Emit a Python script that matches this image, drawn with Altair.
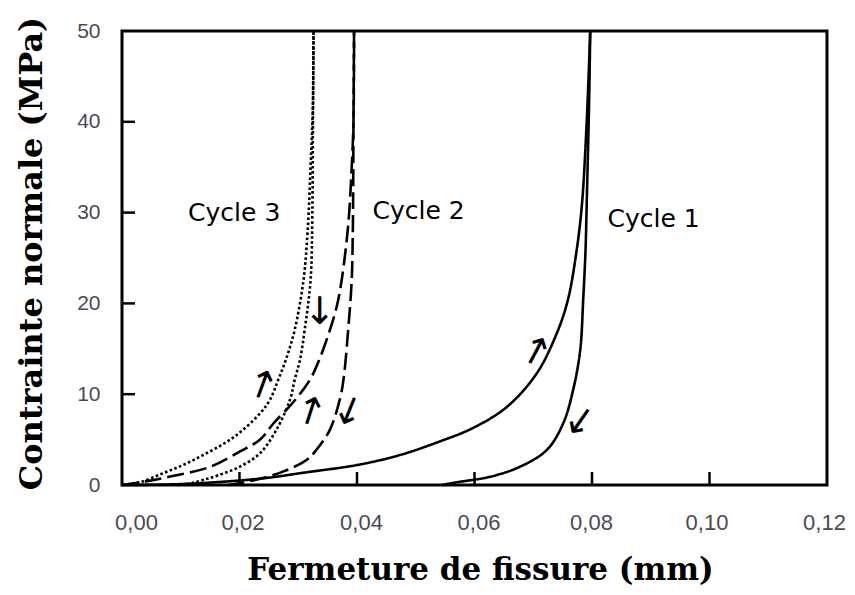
import altair as alt
import pandas as pd

# ---------------- data ----------------
x_ticks = [0.00, 0.02, 0.04, 0.06, 0.08, 0.10, 0.12]
x_label_shift = [14, 3, 4, 4, -1, -3, -3]
y_ticks = [0, 10, 20, 30, 40, 50]
x_inner_ticks = [0.02, 0.04, 0.06, 0.08, 0.10]
y_inner_ticks = [10, 20, 30, 40]

c1_load_x = [0.000, 0.010, 0.0235, 0.0314, 0.0400, 0.0473, 0.0541, 0.0598, 0.0655, 0.0706, 0.0740, 0.0759, 0.0774, 0.0783, 0.0791, 0.0797]
c1_load_y = [0.0, 0.1, 0.7, 1.4, 2.2, 3.3, 4.8, 6.3, 8.6, 12.3, 16.7, 20.4, 25.9, 31.0, 40.0, 50.0]
c1_unload_x = [0.0797, 0.0795, 0.0791, 0.0789, 0.0785, 0.0780, 0.0768, 0.0751, 0.0723, 0.0677, 0.0626, 0.0570, 0.0545]
c1_unload_y = [50.0, 42.0, 31.0, 25.9, 20.4, 14.9, 10.5, 6.8, 3.85, 2.0, 0.9, 0.3, 0.0]

c2_load_x = [0.000, 0.004, 0.008, 0.015, 0.0201, 0.0235, 0.0258, 0.0290, 0.0320, 0.0337, 0.0354, 0.0366, 0.0374, 0.0385, 0.0391, 0.0394, 0.0395]
c2_load_y = [0.0, 0.4, 0.9, 2.0, 3.7, 5.0, 6.8, 9.0, 11.6, 14.0, 17.1, 19.8, 22.6, 28.6, 35.0, 40.0, 50.0]
c2_unload_x = [0.0395, 0.0394, 0.0393, 0.0391, 0.0385, 0.0377, 0.0371, 0.0354, 0.0330, 0.0314, 0.0275, 0.0235, 0.0200, 0.0180]
c2_unload_y = [50.0, 40.0, 28.6, 22.6, 17.1, 11.6, 9.5, 6.1, 3.8, 2.75, 1.5, 0.7, 0.2, 0.0]

c3_load_x = [0.000, 0.003, 0.007, 0.0104, 0.0138, 0.0172, 0.0201, 0.0235, 0.0252, 0.0266, 0.0280, 0.0294, 0.0309, 0.0316, 0.0321, 0.0325, 0.0326]
c3_load_y = [0.0, 0.3, 1.3, 2.2, 3.3, 4.5, 5.8, 7.9, 9.4, 11.6, 14.0, 17.1, 22.6, 28.0, 35.0, 42.0, 50.0]
c3_unload_x = [0.0326, 0.0325, 0.0324, 0.0321, 0.0311, 0.0303, 0.0294, 0.0286, 0.0263, 0.0235, 0.0200, 0.0165, 0.0138, 0.0115, 0.0095]
c3_unload_y = [50.0, 40.0, 30.0, 22.6, 17.1, 13.8, 11.6, 9.4, 6.1, 3.5, 2.0, 1.1, 0.55, 0.15, 0.0]

label_text = ["Cycle 3", "Cycle 2", "Cycle 1"]
label_x = [0.0191, 0.0505, 0.0905]
label_y = [30.0, 30.2, 29.3]

arrow_glyph = ["↑", "↓", "↑", "↓", "↑", "↓"]
arrow_x = [0.0238, 0.0337, 0.0320, 0.0385, 0.0703, 0.0777]
arrow_y = [10.8, 18.9, 7.9, 7.9, 14.5, 6.8]
arrow_angle = [20, 0, 18, 22, 28, 35]

# ---------------- tables ----------------
rows = []
for name, cyc, xs, ys in [
    ("c1_load", "1", c1_load_x, c1_load_y),
    ("c1_unload", "1", c1_unload_x, c1_unload_y),
    ("c2_load", "2", c2_load_x, c2_load_y),
    ("c2_unload", "2", c2_unload_x, c2_unload_y),
    ("c3_load", "3", c3_load_x, c3_load_y),
    ("c3_unload", "3", c3_unload_x, c3_unload_y),
]:
    for i, (xv, yv) in enumerate(zip(xs, ys)):
        rows.append({"series": name, "cycle": cyc, "i": i, "x": xv, "y": yv})
curves = pd.DataFrame(rows)

labels = pd.DataFrame({"t": label_text, "x": label_x, "y": label_y})
arrows = pd.DataFrame({"t": arrow_glyph, "x": arrow_x, "y": arrow_y, "a": arrow_angle})
xt = pd.DataFrame({"x": x_inner_ticks})
yt = pd.DataFrame({"y": y_inner_ticks})

W, H = 705, 454
xscale = alt.Scale(domain=[0, 0.12], nice=False, zero=False)
yscale = alt.Scale(domain=[0, 50], nice=False)

label_color = "#4a4a55"

x_label_offset = {
    "condition": [
        {"test": f"abs(datum.value - {v}) < 0.001", "value": s}
        for v, s in zip(x_ticks, x_label_shift)
    ],
    "value": 0,
}

x_axis = alt.Axis(
    values=x_ticks,
    labelExpr="replace(format(datum.value, '.2f'), '.', ',')",
    title="Fermeture de fissure (mm)",
    domain=False, ticks=False, grid=False,
    labelFont="Liberation Sans", labelFontSize=22, labelColor=label_color,
    labelPadding=27, labelFlush=False, labelOffset=x_label_offset,
    titleFont="DejaVu Serif", titleFontSize=31, titleFontWeight="bold", titleColor="black",
    titleX=358, titleY=94, titleBaseline="alphabetic", titleAlign="center",
)
y_axis = alt.Axis(
    values=y_ticks, format="d",
    title="Contrainte normale (MPa)",
    domain=False, ticks=False, grid=False,
    labelFont="Liberation Sans", labelFontSize=21, labelColor=label_color,
    labelPadding=22, labelFlush=False,
    titleFont="DejaVu Serif", titleFontSize=32, titleFontWeight="bold", titleColor="black",
    titleX=-91, titleY=222, titleBaseline="middle", titleAlign="center",
)

X = alt.X("x:Q", scale=xscale, axis=x_axis)
Y = alt.Y("y:Q", scale=yscale, axis=y_axis)

lines = alt.Chart(curves).mark_line(color="black", interpolate="catmull-rom").encode(
    x=X,
    y=Y,
    detail="series:N",
    order="i:Q",
    strokeDash=alt.StrokeDash(
        "cycle:N",
        scale=alt.Scale(domain=["1", "2", "3"], range=[[1, 0], [17, 6], [2.6, 2.4]]),
        legend=None,
    ),
    strokeWidth=alt.StrokeWidth(
        "cycle:N",
        scale=alt.Scale(domain=["1", "2", "3"], range=[2.6, 2.6, 3.2]),
        legend=None,
    ),
)

xticks_layer = alt.Chart(xt).mark_rule(color="black", strokeWidth=2.5).encode(
    x=X,
    y=alt.value(H),
    y2=alt.value(H - 13),
)
yticks_layer = alt.Chart(yt).mark_rule(color="black", strokeWidth=2.5).encode(
    y=Y,
    x=alt.value(0),
    x2=alt.value(13),
)

label_layer = alt.Chart(labels).mark_text(
    font="DejaVu Sans", fontSize=25, color="black", align="center", baseline="middle"
).encode(
    x=X,
    y=Y,
    text="t:N",
)

arrow_layer = alt.Chart(arrows).mark_text(
    font="DejaVu Sans", fontSize=38, color="black", align="center", baseline="middle"
).encode(
    x=X,
    y=Y,
    text="t:N",
    angle=alt.Angle("a:Q", scale=None),
)

chart = alt.layer(lines, xticks_layer, yticks_layer, label_layer, arrow_layer).properties(
    width=W,
    height=H,
    autosize=alt.AutoSizeParams(type="none"),
    padding={"left": 114, "top": 23, "right": 20, "bottom": 102},
    background="white",
).configure_view(stroke="black", strokeWidth=3)

chart.save("out.html", embed_options={"renderer": "svg", "actions": False})
